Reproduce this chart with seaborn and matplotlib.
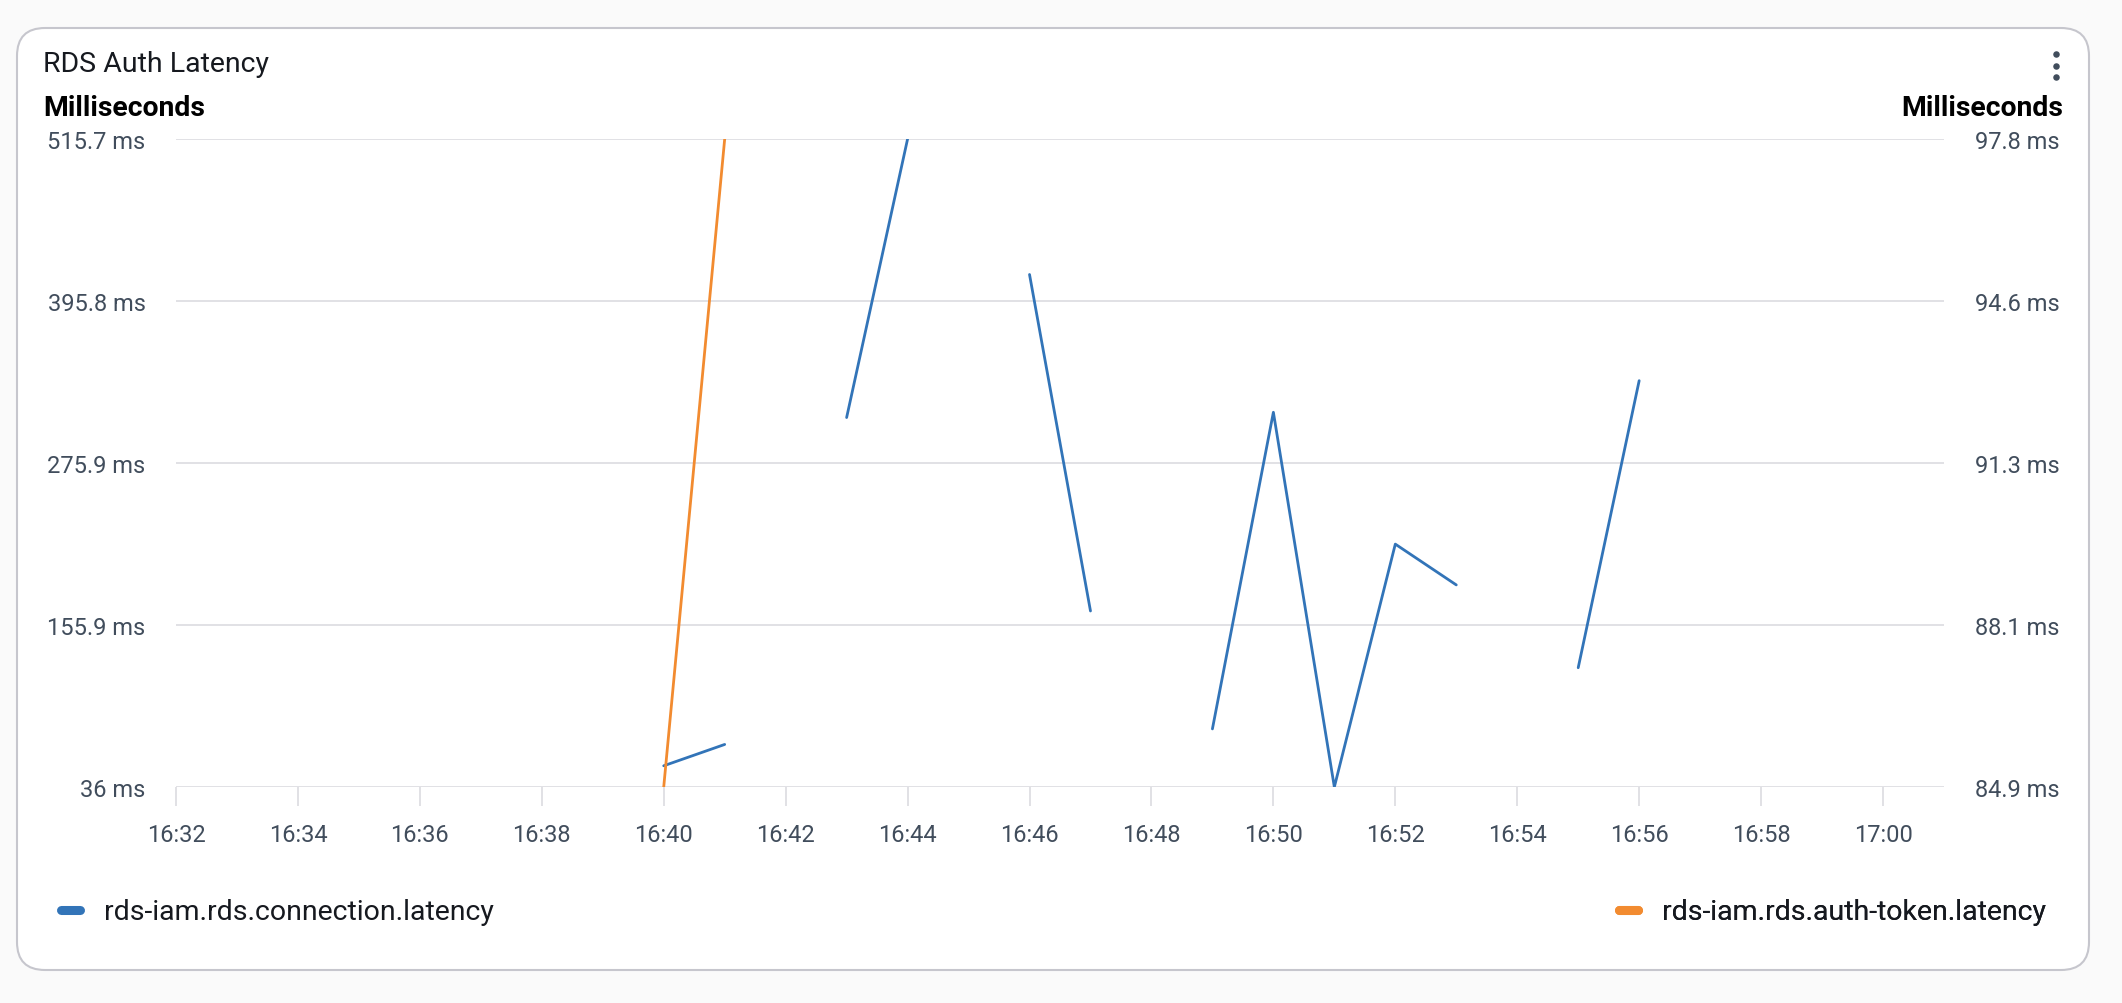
import numpy as np
import pandas as pd
import matplotlib
matplotlib.use("Agg")
import matplotlib.pyplot as plt
import matplotlib.dates as mdates
from matplotlib.lines import Line2D
from matplotlib.patches import FancyBboxPatch
import seaborn as sns

# ── data ─────────────────────────────────────────────
day = "2024-01-01 "
conn_times = ["16:40", "16:41", "16:42", "16:43", "16:44", "16:45", "16:46",
              "16:47", "16:48", "16:49", "16:50", "16:51", "16:52", "16:53",
              "16:54", "16:55", "16:56"]
conn_latency = [51.7, 67.5, np.nan, 309.5, 515.7, np.nan, 415.4,
                166.3, np.nan, 79.0, 313.4, 36.0, 215.8, 185.6,
                np.nan, 124.3, 336.8]

token_times = ["16:40", "16:41"]
token_latency = [84.9, 97.8]

left_ticks = ["36 ms", "155.9 ms", "275.9 ms", "395.8 ms", "515.7 ms"]
right_ticks = ["84.9 ms", "88.1 ms", "91.3 ms", "94.6 ms", "97.8 ms"]
left_range = (36.0, 515.7)
right_range = (84.9, 97.8)
x_start, x_end = "16:32", "17:01"

series_names = ["rds-iam.rds.connection.latency", "rds-iam.rds.auth-token.latency"]
BLUE = "#3274b8"
ORANGE = "#f28b30"
GRID = "#d9d9de"
LABEL = "#414d5c"
DARK = "#16191f"

# gaps split the blue series into separate segments
conn = pd.DataFrame({"time": pd.to_datetime([day + t for t in conn_times]),
                     "latency": conn_latency})
conn["seg"] = conn["latency"].isna().cumsum()
conn = conn.dropna()
token = pd.DataFrame({"time": pd.to_datetime([day + t for t in token_times]),
                      "latency": token_latency})

# ── figure ───────────────────────────────────────────
sns.set_theme(style="white")
plt.rcParams["font.family"] = ["Roboto", "DejaVu Sans"]

W, H = 2122, 1004
fig = plt.figure(figsize=(W / 100, H / 100), dpi=100)
fig.patch.set_facecolor("#fafafa")

# background axes in pixel units for the card
bg = fig.add_axes([0, 0, 1, 1], zorder=0)
bg.set_xlim(0, W)
bg.set_ylim(H, 0)
bg.axis("off")
card = FancyBboxPatch((17, 29), 2089 - 17, 971 - 29,
                      boxstyle="round,pad=0,rounding_size=28",
                      facecolor="white", edgecolor="#c6c6cd", lw=1.5)
bg.add_patch(card)
bg.text(43, 64, "RDS Auth Latency", fontsize=20.5, color=DARK, va="center", ha="left")
bg.text(43, 109, "Milliseconds", fontsize=20.4, fontweight="bold", color="black",
        va="center", ha="left")
bg.text(2063, 109, "Milliseconds", fontsize=20.4, fontweight="bold", color="black",
        va="center", ha="right")
bg.scatter([2056, 2056, 2056], [55, 66.5, 78], s=22, color=LABEL, lw=0)

# main plot
ax = fig.add_axes([176 / W, 1 - 788 / H, (1944 - 176) / W, (788 - 140) / H], zorder=1)
ax.patch.set_visible(False)
sns.lineplot(data=conn, x="time", y="latency", units="seg", estimator=None,
             color=BLUE, lw=2, ax=ax, legend=False)
ax.set_ylim(*left_range)
ax.set_yticks(np.linspace(*left_range, 5))
ax.set_yticklabels(left_ticks)
ax.set_xlim(pd.Timestamp(day + x_start), pd.Timestamp(day + x_end))
ax.xaxis.set_major_locator(mdates.MinuteLocator(byminute=range(0, 60, 2)))
ax.xaxis.set_major_formatter(mdates.DateFormatter("%H:%M"))
ax.set_xlabel("")
ax.set_ylabel("")
ax.grid(axis="y", color=GRID, lw=1.1)
ax.grid(axis="x", visible=False)
ax.tick_params(axis="x", length=13.7, width=1.1, color=GRID, labelcolor=LABEL,
               labelsize=17, pad=12, bottom=True)
ax.tick_params(axis="y", length=0, labelcolor=LABEL, labelsize=17, pad=22)
for s in ax.spines.values():
    s.set_visible(False)

ax2 = ax.twinx()
ax2.patch.set_visible(False)
sns.lineplot(data=token, x="time", y="latency", color=ORANGE, lw=2, ax=ax2,
             legend=False)
ax2.set_ylim(*right_range)
ax2.set_yticks(np.linspace(*right_range, 5))
ax2.set_yticklabels(right_ticks)
ax2.set_ylabel("")
ax2.tick_params(axis="y", length=0, labelcolor=LABEL, labelsize=17, pad=22)
for s in ax2.spines.values():
    s.set_visible(False)

# legends
for name, color, x0 in [(series_names[0], BLUE, 60.5), (series_names[1], ORANGE, 1618.5)]:
    h = Line2D([0], [0], color=color, lw=6.5, solid_capstyle="round")
    leg = bg.legend([h], [name], loc="center left", bbox_to_anchor=(x0, 913),
                    bbox_transform=bg.transData, frameon=False, fontsize=20.5,
                    handlelength=0.67, handletextpad=0.85, borderpad=0,
                    borderaxespad=0, labelcolor=DARK)
    bg.add_artist(leg)

fig.savefig("out.png", dpi=100, facecolor=fig.get_facecolor())
